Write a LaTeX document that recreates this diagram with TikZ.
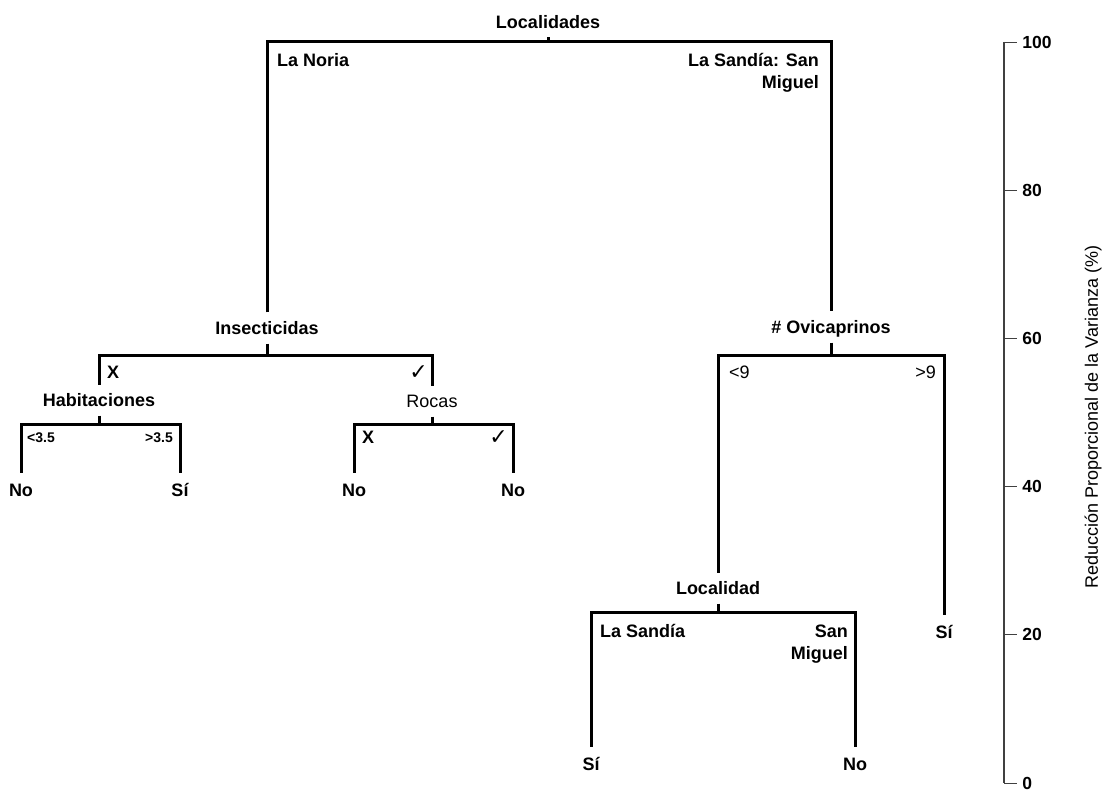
\documentclass[tikz,border=0pt]{standalone}
\usepackage{fontspec}
\setmainfont{Liberation Sans}
\newfontfamily\checkfont{DejaVu Sans}
\usetikzlibrary{positioning}

\newcommand{\chk}{{\checkfont\fontsize{22}{24}\selectfont ✓}}

\tikzset{
  branchline/.style={line width=3pt, black},
  splitlbl/.style={font=\bfseries\fontsize{18}{22}\selectfont, inner xsep=2pt, inner ysep=3pt, outer ysep=6pt, text height=13pt, text depth=0pt},
  splitreg/.style={splitlbl, font=\fontsize{18}{22}\selectfont},
  leaflbl/.style={font=\bfseries\fontsize{18}{22}\selectfont, inner ysep=3pt, outer ysep=8pt, text height=13pt, text depth=0pt},
  condlbl/.style={font=\bfseries\fontsize{18}{22}\selectfont, inner sep=0pt},
  condsmall/.style={condlbl, font=\bfseries\fontsize{14}{17}\selectfont},
  condreg/.style={condlbl, font=\fontsize{18}{22}\selectfont},
  axisline/.style={line width=1.6pt, black!75},
  tickline/.style={line width=0.9pt, black!75},
}

\begin{document}
\begin{tikzpicture}[x=1pt, y=-1pt]
  \useasboundingbox (0,0) rectangle (1102,791);

  % Nodos de division
  \node[splitlbl] (loc) at (548,22) {Localidades};
  \node[splitlbl] (ins) at (267,328) {Insecticidas};
  \node[splitlbl] (ovi) at (831,327) {\# Ovicaprinos};
  \node[splitlbl] (hab) at (99,400) {Habitaciones};
  \node[splitreg] (roc) at (432,401) {Rocas};
  \node[splitlbl] (lcd) at (718,588) {Localidad};

  % Barras horizontales
  \coordinate (locbar) at (548,42);
  \coordinate (insbar) at (267,355);
  \coordinate (ovibar) at (831,355);
  \coordinate (habbar) at (99,424);
  \coordinate (rocbar) at (432,424);
  \coordinate (lcdbar) at (718,612);

  % Hojas
  \node[leaflbl] (hab1) at (21,490) {No};
  \node[leaflbl] (hab2) at (180,490) {Sí};
  \node[leaflbl] (roc1) at (354,490) {No};
  \node[leaflbl] (roc2) at (513,490) {No};
  \node[leaflbl] (lcd1) at (591,764) {Sí};
  \node[leaflbl] (lcd2) at (855,764) {No};
  \node[leaflbl] (ovi2) at (944,632) {Sí};

  % Ramas
  \draw[branchline] (loc.south) -- (locbar);
  \draw[branchline] (ins.north) |- (locbar) -| (ovi.north);
  \draw[branchline] (ins.south) -- (insbar);
  \draw[branchline] (hab.north) |- (insbar) -| (roc.north);
  \draw[branchline] (ovi.south) -- (ovibar);
  \draw[branchline] (lcd.north) |- (ovibar) -| (ovi2.north);
  \draw[branchline] (hab.south) -- (habbar);
  \draw[branchline] (hab1.north) |- (habbar) -| (hab2.north);
  \draw[branchline] (roc.south) -- (rocbar);
  \draw[branchline] (roc1.north) |- (rocbar) -| (roc2.north);
  \draw[branchline] (lcd.south) -- (lcdbar);
  \draw[branchline] (lcd1.north) |- (lcdbar) -| (lcd2.north);

  % Etiquetas de las ramas
  \node[condlbl, anchor=base west] (c1) at (277,66.5) {La Noria};
  \node[condlbl, anchor=north east, align=right] (c2) at (819,53.5) {La Sandía: San\\Miguel};
  \node[condlbl, anchor=base west] (c3) at (107,378) {X};
  \node[condreg, anchor=base east] (c4) at (428,379) {\chk};
  \node[condsmall, anchor=base west] (c5) at (27,442) {<3.5};
  \node[condsmall, anchor=base east] (c6) at (173,442) {>3.5};
  \node[condlbl, anchor=base west] (c7) at (362,443) {X};
  \node[condreg, anchor=base east] (c8) at (508,444) {\chk};
  \node[condreg, anchor=base west] (c9) at (729,378) {<9};
  \node[condreg, anchor=base east] (c10) at (936,378) {>9};
  \node[condlbl, anchor=base west] (c11) at (600,637) {La Sandía};
  \node[condlbl, anchor=north east, align=right] (c12) at (848,624.5) {San\\Miguel};

  % Eje: reduccion proporcional de la varianza
  \draw[axisline] (1004,42) -- (1004,783);
  \foreach \v in {0,20,...,100}
    \draw[tickline] (1004,{783-7.41*\v}) -- ++(13,0)
      node[right, text=black, inner xsep=5pt, font=\bfseries\fontsize{17.5}{20}\selectfont] (t\v) {\v};
  \node[rotate=90, font=\fontsize{18}{22}\selectfont] (ytitle) at (1093,417) {Reducción Proporcional de la Varianza (\%)};
\end{tikzpicture}
\end{document}
